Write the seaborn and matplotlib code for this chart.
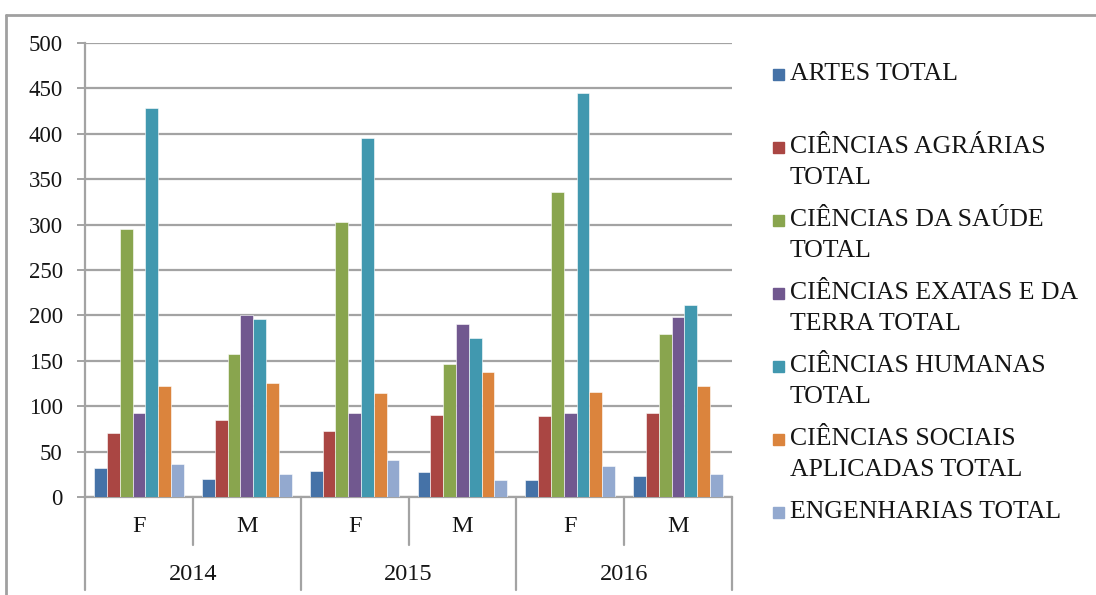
import matplotlib
matplotlib.use("Agg")
import matplotlib.pyplot as plt
from matplotlib.lines import Line2D
from matplotlib.patches import Rectangle
from matplotlib.transforms import blended_transform_factory
import numpy as np
import pandas as pd
import seaborn as sns

# --- data -------------------------------------------------------------
anos = ["2014", "2015", "2016"]
sexos = ["F", "M"]
areas = [
    "ARTES TOTAL",
    "CIÊNCIAS AGRÁRIAS TOTAL",
    "CIÊNCIAS DA SAÚDE TOTAL",
    "CIÊNCIAS EXATAS E DA TERRA TOTAL",
    "CIÊNCIAS HUMANAS TOTAL",
    "CIÊNCIAS SOCIAIS APLICADAS TOTAL",
    "ENGENHARIAS TOTAL",
]
legenda = [
    ["ARTES TOTAL"],
    ["CIÊNCIAS AGRÁRIAS", "TOTAL"],
    ["CIÊNCIAS DA SAÚDE", "TOTAL"],
    ["CIÊNCIAS EXATAS E DA", "TERRA TOTAL"],
    ["CIÊNCIAS HUMANAS", "TOTAL"],
    ["CIÊNCIAS SOCIAIS", "APLICADAS TOTAL"],
    ["ENGENHARIAS TOTAL"],
]
# values per group: 2014F, 2014M, 2015F, 2015M, 2016F, 2016M
artes      = [32, 20, 29, 28, 19, 23]
agrarias   = [70, 85, 73, 90, 89, 92]
saude      = [295, 158, 303, 147, 336, 180]
exatas     = [93, 200, 93, 190, 93, 198]
humanas    = [428, 196, 395, 175, 445, 211]
sociais    = [122, 126, 114, 138, 116, 122]
engenharia = [36, 25, 41, 19, 34, 25]

cores = ["#4572A7", "#AA4643", "#89A54E", "#71588F",
         "#4198AF", "#DB843D", "#93A9CF"]

series = [artes, agrarias, saude, exatas, humanas, sociais, engenharia]
grupos = [f"{a} {s}" for a in anos for s in sexos]
linhas = []
for area, vals in zip(areas, series):
    for g, v in zip(grupos, vals):
        linhas.append({"grupo": g, "area": area, "valor": v})
df = pd.DataFrame(linhas)

# --- figure -----------------------------------------------------------
sns.set_style("white")
plt.rcParams["font.family"] = ["Liberation Serif", "DejaVu Serif"]

W, H = 1096, 595
fig = plt.figure(figsize=(W / 100, H / 100), dpi=100)
fig.patch.set_facecolor("white")

def fx(px):
    return px / W

def fy(py):
    return 1 - py / H

x0, x1, y0, y1 = 85, 732, 497, 43
ax = fig.add_axes([fx(x0), fy(y0), fx(x1) - fx(x0), fy(y1) - fy(y0)])

sns.barplot(data=df, x="grupo", y="valor", hue="area", order=grupos,
            hue_order=areas, palette=cores, width=0.83, saturation=1,
            edgecolor="white", linewidth=0.4, legend=False, ax=ax, zorder=3)

grid_c = "#a3a3a3"
txt_c = "#151515"
ax.set_ylim(0, 500)
ax.set_xlim(-0.5, len(grupos) - 0.5)
ax.set_yticks(np.arange(0, 501, 50))
ax.yaxis.grid(True, color=grid_c, linewidth=1.6, zorder=0)
ax.set_axisbelow(True)
for s in ["top", "right"]:
    ax.spines[s].set_visible(False)
for s in ["left", "bottom"]:
    ax.spines[s].set_color(grid_c)
    ax.spines[s].set_linewidth(1.6)
ax.tick_params(axis="y", length=6, width=1.4, color=grid_c, pad=10,
               labelsize=16.5, labelcolor=txt_c, left=True)
ax.tick_params(axis="x", length=0, labelbottom=False)
ax.set_xlabel("")
ax.set_ylabel("")

# hierarchical category axis (sex / year)
tr = blended_transform_factory(ax.transData, ax.transAxes)
ph = y0 - y1
def ay(py):
    return (y0 - py) / ph

for i, g in enumerate(grupos):
    ax.text(i, ay(526), g.split()[1], transform=tr, ha="center", va="center",
            fontsize=17.5, color=txt_c)
for j, a in enumerate(anos):
    ax.text(2 * j + 0.5, ay(574), a, transform=tr, ha="center", va="center",
            fontsize=17.5, color=txt_c)
for k in range(len(grupos) + 1):
    xb = k - 0.5
    fim = ay(590) if k % 2 == 0 else ay(545)
    ax.add_line(Line2D([xb, xb], [0, fim], transform=tr, color=grid_c,
                       linewidth=1.6, clip_on=False))

# legend
for i, (linhas_txt, cor) in enumerate(zip(legenda, cores)):
    yc = 74 + 73 * i
    fig.patches.append(Rectangle((fx(773), fy(yc + 6)), fx(11), 11 / H,
                                 transform=fig.transFigure, color=cor))
    for n, t in enumerate(linhas_txt):
        fig.text(fx(790), fy(yc + 31 * n), t, ha="left", va="center",
                 fontsize=18.5, color=txt_c)

# outer frame
frame_c = "#a0a0a0"
fig.add_artist(Line2D([fx(6), 1], [fy(15), fy(15)], transform=fig.transFigure,
                      color=frame_c, linewidth=2))
fig.add_artist(Line2D([fx(6), fx(6)], [fy(15), 0], transform=fig.transFigure,
                      color=frame_c, linewidth=2))

fig.savefig("out.png", dpi=100, facecolor="white")
